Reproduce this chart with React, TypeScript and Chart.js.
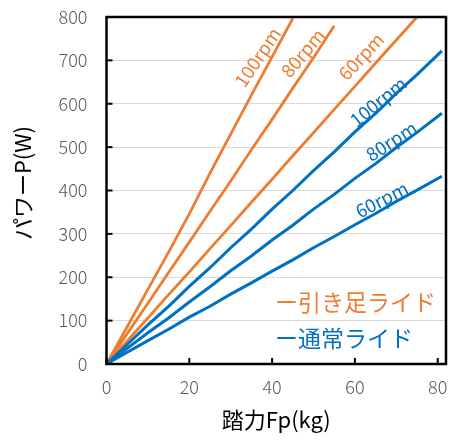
import React, { useEffect, useRef } from "react";
import { Chart, registerables } from "chart.js";

Chart.register(...registerables);

// ---- data ----
const xNormal = [0, 5, 10, 15, 20, 25, 30, 35, 40, 45, 50, 55, 60, 65, 70, 75, 81];
const normal100 = [0, 45, 90, 133, 179, 222, 268, 311, 357, 400, 446, 489, 535, 578, 624, 667, 722];
const normal80 = [0, 36, 72, 106, 143, 178, 215, 249, 286, 320, 357, 391, 428, 462, 499, 534, 578];
const normal60 = [0, 27, 54, 80, 108, 133, 161, 187, 214, 240, 268, 294, 321, 347, 375, 401, 433];

const xPull100 = [0, 5, 10, 15, 20, 25, 30, 35, 40, 45];
const pull100 = [0, 86, 172, 258, 346, 440, 530, 620, 708, 797];
const xPull80 = [0, 5, 10, 15, 20, 25, 30, 35, 40, 45, 50, 55];
const pull80 = [0, 70, 140, 211, 281, 352, 422, 494, 564, 636, 706, 780];
const xPull60 = [0, 5, 10, 15, 20, 25, 30, 35, 40, 45, 50, 55, 60, 65, 70, 75];
const pull60 = [0, 53, 106, 160, 212, 266, 319, 373, 426, 480, 533, 587, 640, 694, 747, 800];

const rpmTexts = ["100rpm", "80rpm", "60rpm", "100rpm", "80rpm", "60rpm"];
const rpmLabelX = [36.5, 47.4, 61.5, 65.6, 68.8, 66.5];
const rpmLabelY = [707, 717, 709, 605, 514, 379];
const rpmLabelAngle = [-56, -50, -47, -39, -33, -27];
const rpmIsPull = [true, true, true, false, false, false];

const legendTexts = ["ー引き足ライド", "ー通常ライド"];
const legendX = [40.7, 40.7];
const legendY = [143, 60];

const xTitle = "踏力Fp(kg)";
const yTitle = "パワーP(W)";

const ORANGE = "#ED7D31";
const BLUE = "#0070C0";
const FONT = '"Noto Sans CJK JP", "Noto Sans", sans-serif';

const toPts = (xs: number[], ys: number[]) => xs.map((x, i) => ({ x, y: ys[i] }));

const annotate = {
  id: "annotate",
  afterDraw(chart: any) {
    const { ctx, chartArea: a, scales } = chart;
    const x = scales.x;
    const y = scales.y;
    ctx.save();
    // inner tick marks
    ctx.strokeStyle = "#000";
    ctx.lineWidth = 2;
    y.ticks.forEach((t: any) => {
      const py = y.getPixelForValue(t.value);
      ctx.beginPath();
      ctx.moveTo(a.left, py);
      ctx.lineTo(a.left + 6, py);
      ctx.stroke();
    });
    x.ticks.forEach((t: any) => {
      const px = x.getPixelForValue(t.value);
      ctx.beginPath();
      ctx.moveTo(px, a.bottom);
      ctx.lineTo(px, a.bottom - 6);
      ctx.stroke();
    });
    // frame
    ctx.lineWidth = 2.5;
    ctx.strokeRect(a.left, a.top, a.right - a.left, a.bottom - a.top);

    // rpm labels
    ctx.font = `18.5px ${FONT}`;
    ctx.textAlign = "center";
    ctx.textBaseline = "middle";
    rpmTexts.forEach((txt, i) => {
      ctx.save();
      ctx.translate(x.getPixelForValue(rpmLabelX[i]), y.getPixelForValue(rpmLabelY[i]));
      ctx.rotate((rpmLabelAngle[i] * Math.PI) / 180);
      ctx.fillStyle = rpmIsPull[i] ? ORANGE : BLUE;
      ctx.fillText(txt, 0, 0);
      ctx.restore();
    });

    // legend-like texts
    ctx.font = `23px ${FONT}`;
    ctx.textAlign = "left";
    legendTexts.forEach((txt, i) => {
      ctx.fillStyle = i === 0 ? ORANGE : BLUE;
      ctx.fillText(txt, x.getPixelForValue(legendX[i]), y.getPixelForValue(legendY[i]));
    });

    // axis titles
    ctx.fillStyle = "#000";
    ctx.font = `22px ${FONT}`;
    ctx.textAlign = "center";
    ctx.fillText(xTitle, (a.left + a.right) / 2, 420);
    ctx.save();
    ctx.translate(23, 183);
    ctx.rotate(-Math.PI / 2);
    ctx.fillText(yTitle, 0, 0);
    ctx.restore();
    ctx.restore();
  },
};

export default function App() {
  const ref = useRef<HTMLCanvasElement>(null);
  useEffect(() => {
    if (!ref.current) return;
    const chart = new Chart(ref.current, {
      type: "line",
      data: {
        datasets: [
          { label: "通常 100rpm", data: toPts(xNormal, normal100), borderColor: BLUE, borderWidth: 3 },
          { label: "通常 80rpm", data: toPts(xNormal, normal80), borderColor: BLUE, borderWidth: 3 },
          { label: "通常 60rpm", data: toPts(xNormal, normal60), borderColor: BLUE, borderWidth: 3 },
          { label: "引き足 100rpm", data: toPts(xPull100, pull100), borderColor: ORANGE, borderWidth: 2.8 },
          { label: "引き足 80rpm", data: toPts(xPull80, pull80), borderColor: ORANGE, borderWidth: 2.8 },
          { label: "引き足 60rpm", data: toPts(xPull60, pull60), borderColor: ORANGE, borderWidth: 2.8 },
        ],
      },
      options: {
        responsive: false,
        animation: false,
        layout: { padding: { top: 17, right: 15, left: 0, bottom: 0 } },
        elements: { point: { radius: 0 }, line: { tension: 0 } },
        plugins: { legend: { display: false }, tooltip: { enabled: false } },
        scales: {
          x: {
            type: "linear",
            min: 0,
            max: 82,
            grid: { display: false, drawTicks: false },
            border: { display: false },
            ticks: {
              stepSize: 20,
              includeBounds: false,
              padding: 12,
              color: "#595959",
              font: { family: FONT, size: 18, weight: "300" },
              maxRotation: 0,
            },
            afterFit: (s: any) => {
              s.height = 80;
              s.paddingLeft = 0;
              s.paddingRight = 0;
            },
          },
          y: {
            type: "linear",
            min: 0,
            max: 800,
            grid: { color: "#d9d9d9", lineWidth: 1, drawTicks: false },
            border: { display: false },
            ticks: {
              stepSize: 100,
              padding: 19,
              color: "#595959",
              font: { family: FONT, size: 18, weight: "300" },
            },
            afterFit: (s: any) => {
              s.width = 106.5;
              s.paddingTop = 0;
              s.paddingBottom = 0;
            },
          },
        },
      },
      plugins: [annotate],
    });
    return () => chart.destroy();
  }, []);
  return (
    <div style={{ position: "fixed", left: 0, top: 0, width: 461, height: 444, background: "#fff" }}>
      <canvas ref={ref} width={461} height={444} style={{ display: "block" }} />
    </div>
  );
}
